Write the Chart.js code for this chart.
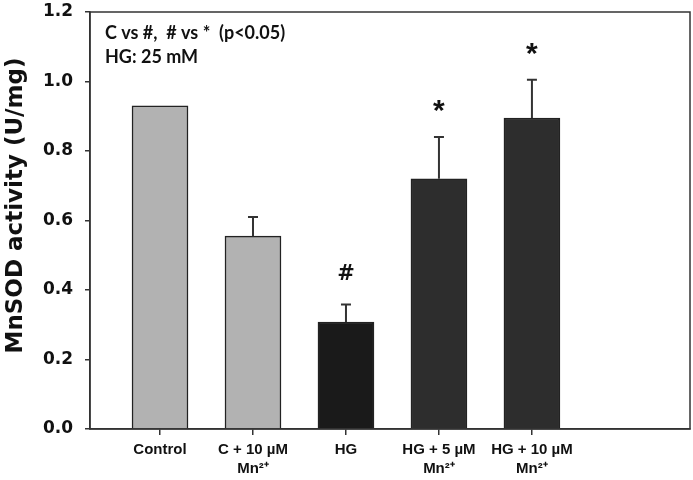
<!DOCTYPE html>
<html>
<head>
<meta charset="utf-8">
<script src="https://cdn.jsdelivr.net/npm/chart.js@4"></script>
<style>
  html, body { margin: 0; padding: 0; background: #fff; }
  #wrap { width: 693px; height: 480px; }
</style>
</head>
<body>
<div id="wrap"><canvas id="chart"></canvas></div>
<script>
const groups = [
  "Control",
  ["C + 10 µM", "Mn²⁺"],
  "HG",
  ["HG + 5 µM", "Mn²⁺"],
  ["HG + 10 µM", "Mn²⁺"],
];
const activity = [0.93, 0.555, 0.308, 0.72, 0.895];
const sem = [0, 0.055, 0.05, 0.12, 0.11];
const marks = ["", "", "#", "*", "*"];
const barColors = ["#b2b2b2", "#b2b2b2", "#1a1a1a", "#2d2d2d", "#2d2d2d"];
const notes = ["C vs #,  # vs *  (p<0.05)", "HG: 25 mM"];
const yTitle = "MnSOD activity (U/mg)";

const frame = {
  id: "frame",
  afterDraw(chart) {
    const { ctx, chartArea: a } = chart;
    ctx.save();
    ctx.strokeStyle = "#333";
    ctx.lineWidth = 1.5;
    ctx.strokeRect(a.left, a.top, a.right - a.left, a.bottom - a.top);
    // y axis title, sits a bit above the axis middle like the original
    ctx.translate(16, (a.top + a.bottom) / 2 - 15);
    ctx.rotate(-Math.PI / 2);
    ctx.fillStyle = "#111";
    ctx.font = "bold 23px 'DejaVu Sans'";
    ctx.textAlign = "center";
    ctx.textBaseline = "middle";
    ctx.fillText(yTitle, 0, 0);
    ctx.restore();
  },
};

const errorBars = {
  id: "errorBars",
  afterDatasetsDraw(chart) {
    const { ctx, scales } = chart;
    const meta = chart.getDatasetMeta(0);
    ctx.save();
    ctx.strokeStyle = "#333";
    ctx.lineWidth = 2;
    meta.data.forEach((bar, i) => {
      const top = scales.y.getPixelForValue(activity[i] + sem[i]);
      if (sem[i] > 0) {
        ctx.beginPath();
        ctx.moveTo(bar.x, bar.y);
        ctx.lineTo(bar.x, top);
        ctx.moveTo(bar.x - 5, top);
        ctx.lineTo(bar.x + 5, top);
        ctx.stroke();
      }
      if (marks[i]) {
        ctx.fillStyle = "#111";
        ctx.textAlign = "center";
        ctx.textBaseline = "middle";
        if (marks[i] === "#") {
          ctx.font = "bold 21px 'DejaVu Sans'";
          ctx.fillText(marks[i], bar.x, top - 30);
        } else {
          ctx.font = "bold 30px 'Liberation Sans'";
          ctx.fillText(marks[i], bar.x, top - 25);
        }
      }
    });
    ctx.restore();
  },
};

const noteText = {
  id: "noteText",
  afterDraw(chart) {
    const { ctx, chartArea: a } = chart;
    ctx.save();
    ctx.fillStyle = "#111";
    ctx.font = "bold 18px Lato";
    ctx.textBaseline = "middle";
    notes.forEach((t, i) => ctx.fillText(t, a.left + 15, a.top + 21 + i * 24));
    ctx.restore();
  },
};

new Chart(document.getElementById("chart"), {
  type: "bar",
  data: {
    datasets: [{
      data: activity.map((v, i) => ({ x: i + 1, y: v })),
      backgroundColor: barColors,
      borderColor: "#222",
      borderWidth: 1.5,
      barThickness: 56,
    }],
  },
  plugins: [frame, errorBars, noteText],
  options: {
    responsive: true,
    maintainAspectRatio: false,
    animation: false,
    layout: { padding: { top: 12, right: 3, left: 0, bottom: 0 } },
    plugins: { legend: { display: false }, tooltip: { enabled: false } },
    scales: {
      x: {
        type: "linear",
        offset: false,
        min: 0.247,
        max: 6.7,
        afterBuildTicks: axis => { axis.ticks = groups.map((_, i) => ({ value: i + 1 })); },
        afterFit: axis => { axis.height = 51; },
        grid: { drawOnChartArea: false, drawTicks: true, offset: false, tickLength: 6, color: "#333", lineWidth: 1.5 },
        border: { color: "#333", width: 1.5 },
        ticks: {
          autoSkip: false,
          maxRotation: 0,
          padding: 5,
          color: "#111",
          font: { family: "'Liberation Sans'", weight: "bold", size: 15, lineHeight: 1.3 },
          callback: v => groups[v - 1],
        },
      },
      y: {
        min: 0,
        max: 1.2,
        afterFit: axis => {
          axis.width = 90;
          axis.paddingTop = 0;
          axis.paddingBottom = 0;
        },
        grid: { drawOnChartArea: false, drawTicks: true, tickLength: 5, color: "#333", lineWidth: 1.5 },
        border: { color: "#333", width: 1.5 },
        ticks: {
          stepSize: 0.2,
          padding: 12,
          color: "#111",
          font: { family: "'DejaVu Sans'", weight: "bold", size: 17 },
          callback: v => v.toFixed(1),
        },
      },
    },
  },
});
</script>
</body>
</html>
